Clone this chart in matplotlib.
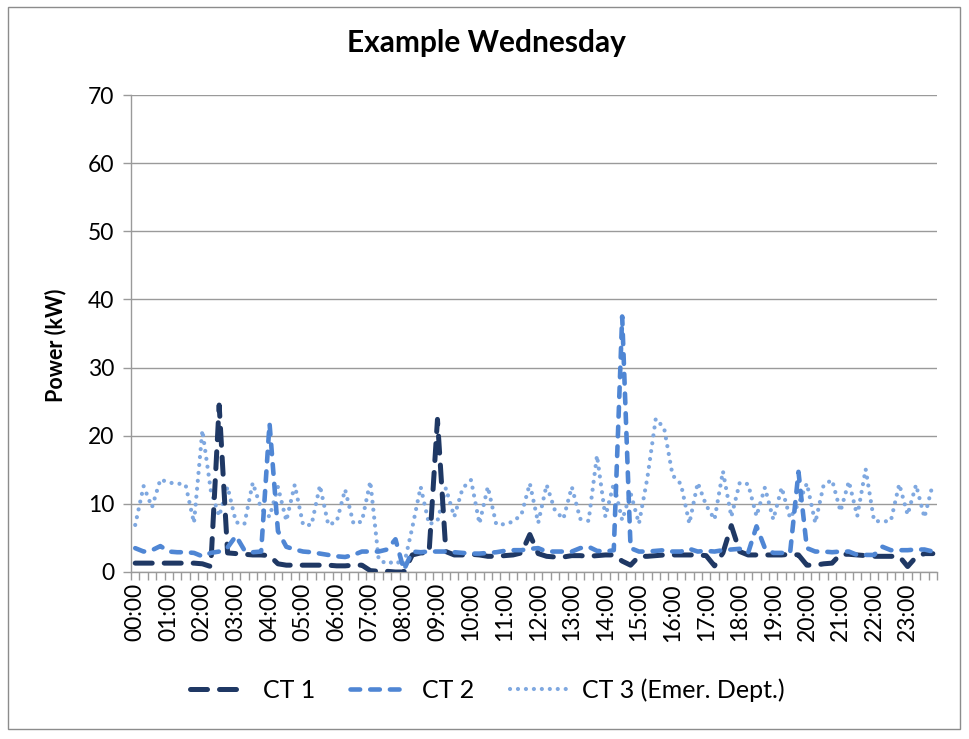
import matplotlib
matplotlib.use("Agg")
import matplotlib.pyplot as plt
from matplotlib.patches import Rectangle
import numpy as np

# 15-minute readings over one day (kW)
ct1 = [1.3, 1.3, 1.3, 1.3, 1.3, 1.3, 1.3, 1.3, 1.2, 0.8, 24.5, 2.8,
       2.7, 2.6, 2.5, 2.5, 2.4, 1.2, 1.0, 1.0, 1.0, 1.0, 1.0, 1.0,
       0.9, 0.9, 1.0, 1.0, 0.2, 0.1, 0.1, 0.0, 0.0, 2.5, 2.8, 2.8,
       22.4, 3.0, 2.5, 2.5, 2.6, 2.5, 2.3, 2.3, 2.4, 2.5, 2.8, 5.5,
       2.7, 2.3, 2.2, 2.2, 2.4, 2.4, 2.3, 2.4, 2.5, 2.5, 1.6, 1.0,
       2.3, 2.3, 2.4, 2.5, 2.5, 2.5, 2.5, 2.5, 2.4, 0.9, 2.8, 6.8,
       3.0, 2.5, 2.5, 2.5, 2.5, 2.5, 2.6, 2.5, 1.0, 1.0, 1.2, 1.3,
       2.6, 2.6, 2.5, 2.4, 2.3, 2.3, 2.3, 2.3, 0.8, 2.2, 2.7, 2.7]

ct2 = [3.5, 3.0, 3.2, 3.8, 3.0, 2.9, 2.9, 2.8, 2.3, 2.8, 3.0, 3.6,
       5.3, 3.2, 2.9, 3.0, 21.8, 6.0, 3.7, 3.3, 3.0, 2.9, 2.7, 2.5,
       2.3, 2.2, 2.5, 3.0, 3.0, 3.0, 3.3, 4.8, 0.3, 3.0, 2.9, 3.0,
       3.0, 3.0, 2.9, 2.8, 2.7, 2.7, 2.8, 2.9, 3.1, 3.2, 3.2, 3.4,
       3.5, 3.0, 3.0, 3.0, 3.0, 3.5, 3.7, 3.1, 3.0, 3.2, 37.5, 3.5,
       3.0, 3.0, 3.1, 3.2, 3.0, 3.0, 3.4, 3.0, 3.1, 3.0, 3.2, 3.3,
       3.4, 2.8, 6.7, 3.5, 2.8, 2.8, 2.8, 14.7, 3.5, 3.0, 3.0, 2.9,
       3.0, 3.0, 2.5, 2.5, 2.5, 3.7, 3.2, 3.2, 3.2, 3.3, 3.3, 3.0]

ct3 = [6.9, 12.6, 9.5, 13.6, 13.1, 13.0, 12.8, 7.2, 20.8, 12.0, 8.2, 12.5,
       7.3, 7.0, 13.1, 9.3, 8.1, 12.5, 7.5, 12.8, 6.9, 6.9, 12.7, 6.9,
       7.4, 12.1, 7.1, 7.4, 13.3, 1.8, 1.2, 1.6, 1.0, 6.5, 12.5, 7.0,
       7.5, 12.3, 8.1, 12.3, 13.5, 7.1, 12.5, 7.0, 7.0, 7.4, 8.4, 13.0,
       7.2, 12.8, 9.0, 7.8, 12.5, 7.8, 7.5, 17.1, 8.1, 13.0, 7.6, 11.6,
       7.1, 13.8, 22.5, 21.1, 14.2, 12.9, 7.1, 13.1, 9.8, 7.7, 14.8, 8.1,
       13.1, 12.9, 8.2, 12.4, 7.7, 12.4, 7.9, 10.0, 13.0, 7.2, 12.8, 13.5,
       8.9, 13.3, 8.2, 15.1, 7.5, 7.4, 7.5, 12.9, 8.4, 12.8, 8.0, 12.9]

hour_labels = ["00:00", "01:00", "02:00", "03:00", "04:00", "05:00",
               "06:00", "07:00", "08:00", "09:00", "10:00", "11:00",
               "12:00", "13:00", "14:00", "15:00", "16:00", "17:00",
               "18:00", "19:00", "20:00", "21:00", "22:00", "23:00"]

series_names = ["CT 1", "CT 2", "CT 3 (Emer. Dept.)"]

plt.rcParams["font.family"] = ["Lato", "DejaVu Sans"]

fig = plt.figure(figsize=(9.69, 7.39), dpi=100)
ax = fig.add_axes([0.1352, 0.2260, 0.8318, 0.6454])

x = np.arange(len(ct1))

# outer chart border
fig.patches.append(Rectangle((0.008, 0.013), 0.983, 0.977, transform=fig.transFigure,
                             fill=False, edgecolor="#8c8c8c", linewidth=1.0))

ax.plot(x, ct1, color="#1f3864", lw=3.6, dashes=(3.4, 2.4),
        dash_capstyle="round", solid_joinstyle="round", label=series_names[0], zorder=3)
ax.plot(x, ct2, color="#4f86d4", lw=3.3, dashes=(2.1, 2.2),
        dash_capstyle="round", solid_joinstyle="round", label=series_names[1], zorder=4)
ax.plot(x, ct3, color="#7fa8e0", lw=3.0, dashes=(0.01, 1.9),
        dash_capstyle="round", label=series_names[2], zorder=2)

ax.set_xlim(-0.5, len(x) - 0.5)
ax.set_ylim(0, 70)
ax.set_yticks(np.arange(0, 71, 10))
ax.grid(axis="y", color="#9a9a9a", linewidth=1.0)
ax.set_axisbelow(True)

ax.set_xticks(np.arange(0, len(x), 4))
ax.set_xticklabels(hour_labels, rotation=90)
ax.set_xticks(np.arange(-0.5, len(x), 1), minor=True)
ax.tick_params(axis="x", which="major", length=0, pad=8, labelsize=16.5)
ax.tick_params(axis="x", which="minor", length=6, color="#9a9a9a", width=1.0)
ax.tick_params(axis="y", length=6, color="#9a9a9a", width=1.0, labelsize=16.5, pad=6)

for side in ["top", "right"]:
    ax.spines[side].set_visible(False)
for side in ["left", "bottom"]:
    ax.spines[side].set_color("#9a9a9a")
    ax.spines[side].set_linewidth(1.0)

ax.set_ylabel("Power (kW)", fontsize=15.5, fontweight="bold")
ax.yaxis.set_label_coords(-0.08, 0.475)
fig.text(0.502, 0.942, "Example Wednesday", ha="center", va="center",
         fontsize=21.5, fontweight="bold")

fig.legend(loc="center", bbox_to_anchor=(0.503, 0.066), ncol=3, frameon=False,
           fontsize=18, handlelength=2.3, columnspacing=1.4, handletextpad=0.6)

fig.savefig("out.png", dpi=100)
